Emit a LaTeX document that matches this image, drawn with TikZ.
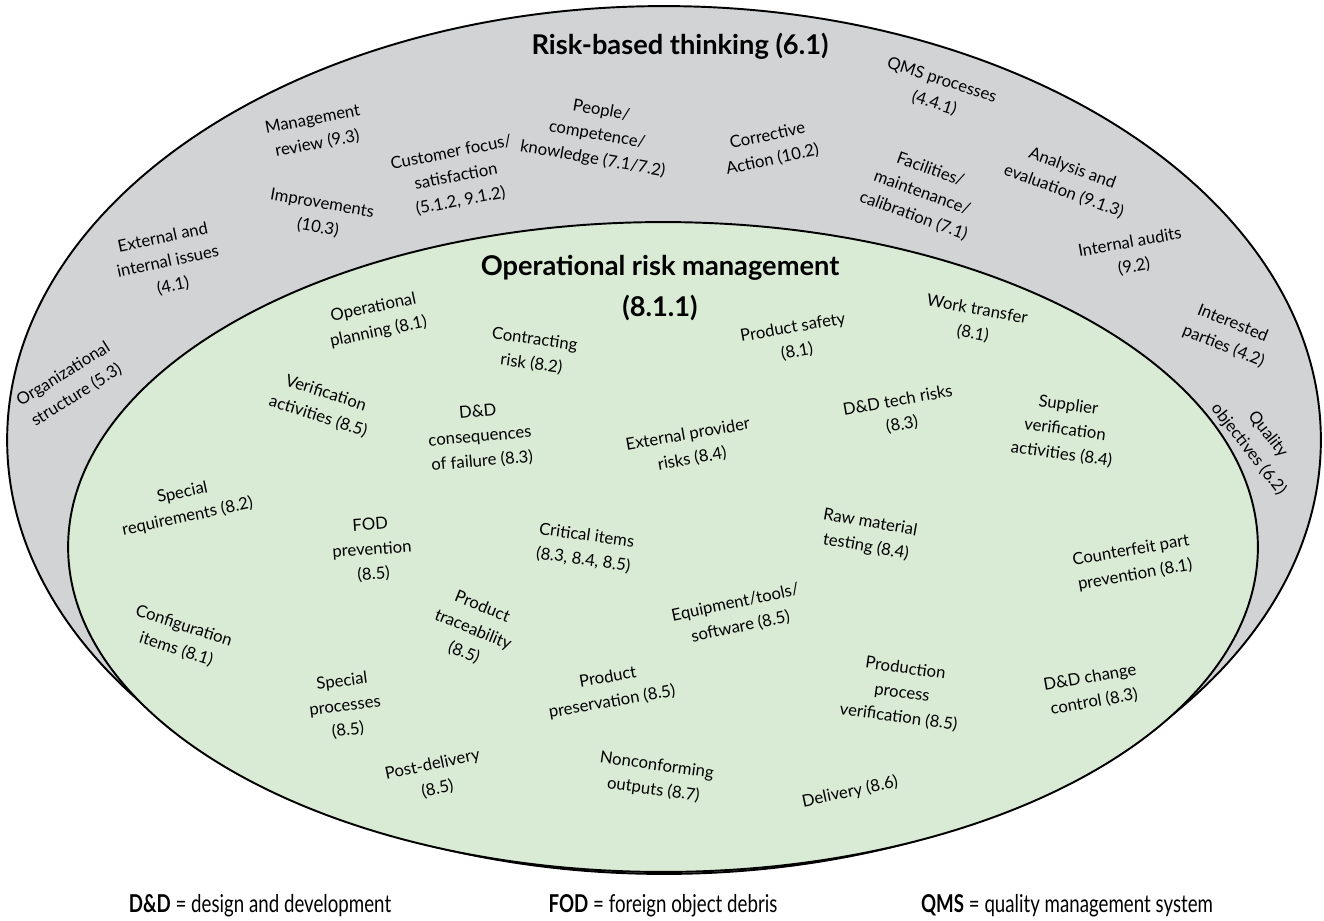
\documentclass[tikz,border=0pt]{standalone}
\usepackage{fontspec}
\setmainfont{Lato}
\newfontfamily\keyfont[FakeStretch=0.76]{Lato}
\definecolor{bandgray}{RGB}{209,211,212}
\definecolor{opsgreen}{RGB}{217,235,213}
\tikzset{
  ring/.style={draw=black, line width=1.1pt},
  item/.style={align=center, inner sep=0pt, font=\fontsize{9.5}{14}\selectfont},
  heading/.style={align=center, inner sep=0pt, font=\fontsize{15.5}{23}\selectfont\bfseries},
  keyline/.style={inner sep=0pt, font=\fontsize{14}{16}\selectfont\keyfont}
}
\begin{document}
\begin{tikzpicture}[x=0.02cm, y=-0.02cm]
    \useasboundingbox (0,0) rectangle (1324,920);

    \draw[ring, fill=bandgray] (664,440) ellipse [x radius=13.14cm, y radius=8.68cm];
    \draw[ring, fill=opsgreen] (663,547) ellipse [x radius=11.9cm, y radius=6.5cm];

    \node[heading] (rbt) at (680,46) {Risk-based thinking (6.1)};
    \node[item, rotate=11] (mgmt) at (315,132) {Management\\review (9.3)};
    \node[item, rotate=-10] (impr) at (320,216) {Improvements\\(10.3)};
    \node[item, rotate=11] (cust) at (456,177) {Customer focus/\\satisfaction\\(5.1.2, 9.1.2)};
    \node[item, rotate=-10] (people) at (597,135) {People/\\competence/\\knowledge (7.1/7.2)};
    \node[item, rotate=12] (extint) at (168,262) {External and\\internal issues\\(4.1)};
    \node[item, rotate=32] (orgstr) at (70,385) {Organizational\\structure (5.3)};
    \node[item, rotate=12] (corr) at (770,148) {Corrective\\Action (10.2)};
    \node[item, rotate=-18] (qms) at (938,92) {QMS processes\\(4.4.1)};
    \node[item, rotate=-20] (facil) at (922,193) {Facilities/\\maintenance/\\calibration (7.1)};
    \node[item, rotate=-20] (anal) at (1068,180) {Analysis and\\evaluation (9.1.3)};
    \node[item, rotate=10] (audits) at (1132,255) {Internal audits\\(9.2)};
    \node[item, rotate=-22] (parties) at (1228,335) {Interested\\parties (4.2)};
    \node[item, rotate=-52] (qualobj) at (1258,442) {Quality\\objectives (6.2)};

    \node[heading] (orm) at (660,288) {Operational risk management\\(8.1.1)};
    \node[item, rotate=12] (opplan) at (376,320) {Operational\\planning (8.1)};
    \node[item, rotate=-8] (contr) at (533,352) {Contracting\\risk (8.2)};
    \node[item, rotate=-18] (verif) at (322,405) {Verification\\activities (8.5)};
    \node[item, rotate=5] (ddcons) at (480,437) {D\&D\\consequences\\of failure (8.3)};
    \node[item, rotate=10] (prodsafe) at (795,340) {Product safety\\(8.1)};
    \node[item, rotate=-10] (worktr) at (975,322) {Work transfer\\(8.1)};
    \node[item, rotate=10] (ddtech) at (900,413) {D\&D tech risks\\(8.3)};
    \node[item, rotate=-8] (suppl) at (1065,430) {Supplier\\verification\\activities (8.4)};
    \node[item, rotate=10] (extprov) at (690,447) {External provider\\risks (8.4)};
    \node[item, rotate=12] (specreq) at (185,505) {Special\\requirements (8.2)};
    \node[item, rotate=4] (fod) at (372,550) {FOD\\prevention\\(8.5)};
    \node[item, rotate=-8] (crit) at (585,548) {Critical items\\(8.3, 8.4, 8.5)};
    \node[item, rotate=-18] (config) at (180,638) {Configuration\\items (8.1)};
    \node[item, rotate=-22] (trace) at (473,630) {Product\\traceability\\(8.5)};
    \node[item, rotate=7] (specproc) at (345,706) {Special\\processes\\(8.5)};
    \node[item, rotate=12] (postdel) at (435,777) {Post-delivery\\(8.5)};
    \node[item, rotate=10] (preserv) at (610,690) {Product\\preservation (8.5)};
    \node[item, rotate=-8] (noncon) at (655,778) {Nonconforming\\outputs (8.7)};
    \node[item, rotate=-10] (rawmat) at (868,535) {Raw material\\testing (8.4)};
    \node[item, rotate=10] (counterf) at (1133,563) {Counterfeit part\\prevention (8.1)};
    \node[item, rotate=12] (equip) at (738,615) {Equipment/tools/\\software (8.5)};
    \node[item, rotate=-8] (prodproc) at (902,693) {Production\\process\\verification (8.5)};
    \node[item, rotate=10] (ddchange) at (1092,690) {D\&D change\\control (8.3)};
    \node[item, rotate=12] (deliv) at (850,792) {Delivery (8.6)};

    \node[keyline] (keydd) at (260,906) {\textbf{D\&D} = design and development};
    \node[keyline] (keyfod) at (663,906) {\textbf{FOD} = foreign object debris};
    \node[keyline] (keyqms) at (1067,906) {\textbf{QMS} = quality management system};
\end{tikzpicture}
\end{document}
